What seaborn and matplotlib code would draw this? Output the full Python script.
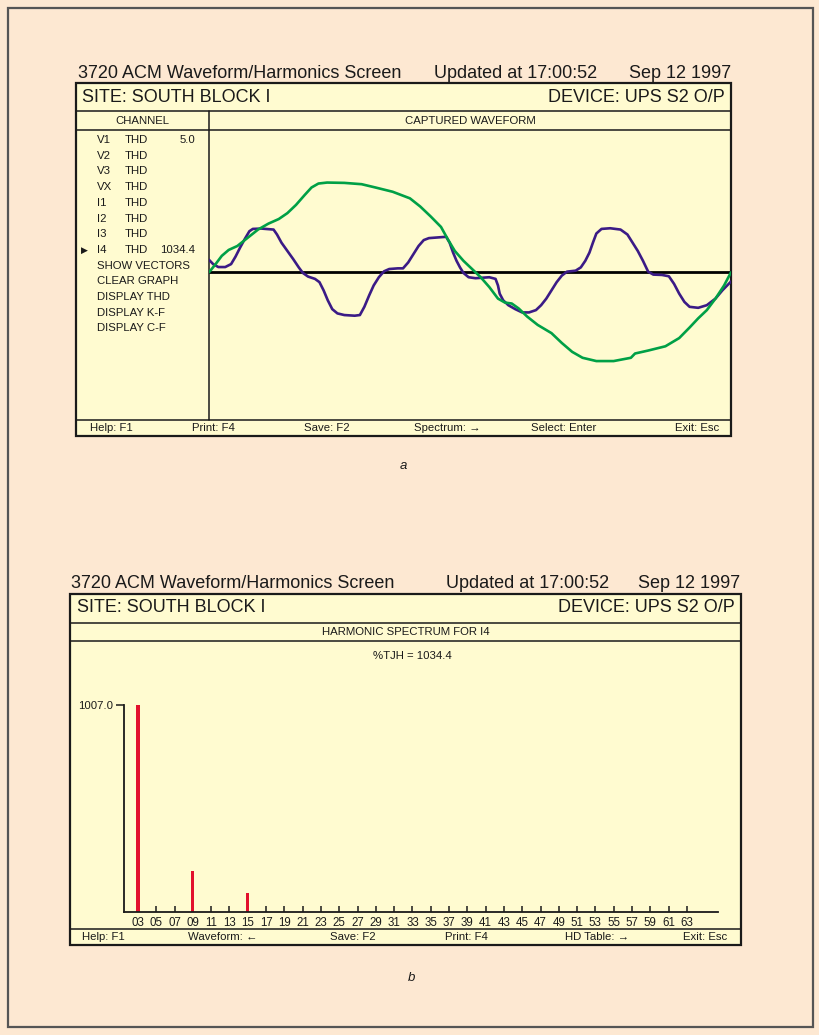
import matplotlib
matplotlib.use("Agg")
import matplotlib.pyplot as plt
from matplotlib.patches import Rectangle
from matplotlib.lines import Line2D
import seaborn as sns
import pandas as pd

# ---------------- data ----------------
title_left = "3720 ACM Waveform/Harmonics Screen"
title_mid = "Updated at 17:00:52"
title_right = "Sep 12 1997"
site_text = "SITE: SOUTH BLOCK I"
device_text = "DEVICE: UPS S2 O/P"

channel_names = ["V1", "V2", "V3", "VX", "I1", "I2", "I3", "I4"]
channel_values = ["5.0", "", "", "", "", "", "", "1034.4"]
menu_items = ["SHOW VECTORS", "CLEAR GRAPH", "DISPLAY THD", "DISPLAY K-F", "DISPLAY C-F"]
footer_a = ["Help: F1", "Print: F4", "Save: F2", "Spectrum: \u2192", "Select: Enter", "Exit: Esc"]
footer_b = ["Help: F1", "Waveform: \u2190", "Save: F2", "Print: F4", "HD Table: \u2192", "Exit: Esc"]

# captured waveform (phase angle in degrees, amplitude in % of voltage peak)
volt_deg = [0, 4.05, 8.81, 13.57, 19.52, 26.67, 33.81, 40.95, 48.10, 54.05, 60.0,
            65.95, 70.71, 75.48, 81.43, 93.33, 105.24, 114.76, 126.67, 138.57,
            145.71, 152.86, 160.0, 164.76, 169.52, 175.48, 181.43, 187.38, 193.33,
            199.29, 204.05, 208.81, 213.57, 219.52, 226.67, 236.19, 243.33, 250.48,
            257.62, 267.14, 279.05, 290.95, 293.81, 302.86, 314.76, 324.29, 331.43,
            337.38, 343.33, 349.29, 355.24, 360]
volt_val = [0, 8.06, 18.32, 24.91, 29.30, 38.46, 47.62, 54.21, 59.34, 65.93, 75.09,
            86.08, 94.51, 98.90, 100.0, 99.63, 98.17, 94.51, 89.74, 82.42,
            73.26, 62.27, 50.55, 36.63, 23.81, 12.82, 3.66, -5.49, -16.48,
            -29.30, -33.70, -34.80, -40.29, -49.45, -58.61, -67.77, -78.75, -88.64,
            -95.24, -98.90, -98.90, -95.24, -90.48, -87.18, -82.42, -73.26, -61.54,
            -51.28, -42.12, -29.30, -14.65, 0]
curr_deg = [0, 2.86, 6.43, 11.19, 15.24, 18.33, 21.43, 24.76, 27.86, 30.24, 36.19,
            44.52, 46.90, 50.0, 54.05, 58.10, 61.90, 64.76, 68.33, 73.10, 76.19,
            79.05, 81.90, 85.0, 88.57, 93.33, 100.48, 104.05, 107.14, 110.48,
            113.57, 117.14, 120.71, 124.29, 130.24, 133.81, 137.38, 140.95, 144.52,
            148.10, 151.67, 157.62, 163.57, 165.95, 168.33, 170.71, 173.10, 175.48,
            179.05, 183.81, 193.33, 197.62, 199.29, 200.48, 202.86, 206.43, 211.19,
            215.95, 220.71, 225.48, 229.05, 232.62, 236.19, 239.76, 243.33, 246.90,
            252.86, 256.43, 259.52, 262.38, 264.76, 267.14, 270.71, 276.67, 283.81,
            288.57, 292.14, 295.71, 299.29, 302.86, 306.43, 312.38, 317.14, 320.71,
            324.29, 327.86, 331.43, 337.38, 343.33, 349.29, 354.05, 360]
curr_val = [13.92, 9.16, 5.86, 5.86, 9.16, 17.58, 27.47, 37.36, 45.79, 48.35, 48.72,
            47.62, 42.12, 32.97, 23.81, 14.65, 5.49, -0.73, -4.76, -7.33, -10.99,
            -20.15, -31.14, -41.03, -45.79, -47.62, -48.35, -47.62, -38.46, -25.64,
            -14.65, -5.49, 1.10, 3.66, 4.40, 4.40, 10.99, 20.15, 29.30,
            35.90, 38.10, 38.83, 39.56, 32.97, 21.98, 12.82, 5.49, -0.73,
            -5.49, -6.59, -5.49, -7.33, -14.65, -23.81, -31.14, -36.63, -41.03,
            -44.69, -44.69, -42.12, -36.63, -29.30, -20.15, -10.99, -3.66, 0.73,
            1.83, 5.49, 12.82, 21.98, 32.97, 43.22, 48.35, 49.08, 47.62,
            42.12, 32.97, 23.81, 12.82, 0.73, -2.56, -2.93, -4.40, -12.82,
            -23.81, -32.97, -38.46, -39.56, -36.63, -29.30, -20.15, -10.26]

# harmonic spectrum for I4
harmonics = [3, 9, 15]
harm_values = [1007.0, 200.0, 94.0]
harm_ticks = list(range(3, 64, 2))
harm_tick_labels = [f"{h:02d}" for h in harm_ticks]
y_max_label = "1007.0"
tjh_text = "%TJH = 1034.4"

# ---------------- style ----------------
sns.set_theme(style="ticks")
plt.rcParams["font.family"] = ["Liberation Sans", "DejaVu Sans"]

W, H = 820, 1035
PEACH = "#FDE8D2"
PANEL = "#FFFBD0"
INK = "#1a1a1a"
GREEN = "#00A046"
PURPLE = "#3B1B86"
RED = "#E2102C"
BIG = 13.0

fig = plt.figure(figsize=(W / 100, H / 100), dpi=100, facecolor=PEACH)


def fx(x):
    return x / W


def fy(y):
    return 1 - y / H


def rect(x0, y0, x1, y1, fc=PANEL, lw=1.5, ec=INK, z=0):
    fig.patches.append(Rectangle((fx(x0), fy(y1)), fx(x1) - fx(x0), fy(y0) - fy(y1),
                                 transform=fig.transFigure, facecolor=fc, edgecolor=ec,
                                 linewidth=lw, zorder=z))


def hline(x0, x1, y, lw=1.1):
    fig.lines.append(Line2D([fx(x0), fx(x1)], [fy(y), fy(y)], transform=fig.transFigure,
                            color=INK, linewidth=lw, zorder=2))


def vline(x, y0, y1, lw=1.1):
    fig.lines.append(Line2D([fx(x), fx(x)], [fy(y0), fy(y1)], transform=fig.transFigure,
                            color=INK, linewidth=lw, zorder=2))


def txt(x, y, s, size=8.4, ha="left", **kw):
    fig.text(fx(x), fy(y), s, fontsize=size, ha=ha, va="center", color=INK, **kw)


# outer frame
rect(8, 8, 813, 1027, fc=PEACH, lw=1.6, ec="#555555", z=-1)

# ---------------- panel a ----------------
txt(78, 73, title_left, size=BIG)
txt(434, 73, title_mid, size=BIG)
txt(731, 73, title_right, size=BIG, ha="right")
rect(76, 83, 731, 436, lw=1.6)
hline(76, 731, 110.5)
hline(76, 731, 130.5)
vline(209, 110.5, 419.5)
hline(76, 731, 419.5)
txt(82, 97, site_text, size=BIG)
txt(725, 97, device_text, size=BIG, ha="right")
txt(142.5, 121, "CHANNEL", size=8.2, ha="center")
txt(470, 121, "CAPTURED WAVEFORM", size=8.2, ha="center")

row_y = [140, 156, 171.5, 187, 203, 218.5, 234, 250]
for name, val, y in zip(channel_names, channel_values, row_y):
    txt(97, y, name, size=8.2)
    txt(125, y, "THD", size=8.2)
    if val:
        txt(195, y, val, size=8.2, ha="right")
txt(81, 250, "\u25B6", size=6.5, family=["DejaVu Sans"])
menu_y = [265.5, 281, 297, 312.5, 328]
for item, y in zip(menu_items, menu_y):
    txt(97, y, item, size=8.2)

foot_a_x = [90, 192, 304, 414, 531, 719]
for i, (s, x) in enumerate(zip(footer_a, foot_a_x)):
    txt(x, 428, s, size=8.2, ha="right" if i == len(footer_a) - 1 else "left")

ax1 = fig.add_axes([fx(209), fy(419.5), fx(731) - fx(209), fy(130.5) - fy(419.5)])
ax1.set_zorder(5)
ax1.set_facecolor("none")
ax1.axhline(0, color="black", linewidth=2.0, zorder=1)
sns.lineplot(x=volt_deg, y=volt_val, sort=False, estimator=None, ax=ax1,
             color=GREEN, linewidth=1.9, zorder=3,
             solid_joinstyle="round", solid_capstyle="round")
sns.lineplot(x=curr_deg, y=curr_val, sort=False, estimator=None, ax=ax1,
             color=PURPLE, linewidth=1.9, zorder=2,
             solid_joinstyle="round", solid_capstyle="round")
ax1.set_xlim(0, 360)
ax1.set_ylim(-164, 158)
ax1.set_xticks([])
ax1.set_yticks([])
ax1.set_xlabel("")
ax1.set_ylabel("")
for sp in ax1.spines.values():
    sp.set_visible(False)

txt(403, 466, "a", size=9.5, ha="center", style="italic")

# ---------------- panel b ----------------
txt(71, 583, title_left, size=BIG)
txt(446, 583, title_mid, size=BIG)
txt(740, 583, title_right, size=BIG, ha="right")
rect(70, 594, 741, 945, lw=1.6)
hline(70, 741, 623)
hline(70, 741, 641)
hline(70, 741, 929)
txt(77, 608, site_text, size=BIG)
txt(735, 608, device_text, size=BIG, ha="right")
txt(405.5, 632, "HARMONIC SPECTRUM FOR I4", size=8.2, ha="center")
txt(412, 656, tjh_text, size=8.2, ha="center")

foot_b_x = [82, 188, 330, 445, 565, 727]
for i, (s, x) in enumerate(zip(footer_b, foot_b_x)):
    txt(x, 937, s, size=8.2, ha="right" if i == len(footer_b) - 1 else "left")

ax2 = fig.add_axes([fx(124), fy(912), fx(718) - fx(124), fy(705) - fy(912)])
ax2.set_zorder(5)
ax2.set_facecolor("none")
df = pd.DataFrame({"harmonic": harmonics, "value": harm_values})
sns.barplot(data=df, x="harmonic", y="value", native_scale=True, width=0.055,
            color=RED, saturation=1, errorbar=None, linewidth=0, ax=ax2)
ax2.set_xlim(1.47, 66.4)
ax2.set_ylim(0, 1007.0)
ax2.set_xticks(harm_ticks)
ax2.set_xticklabels(harm_tick_labels)
ax2.set_yticks([1007.0])
ax2.set_yticklabels([y_max_label])
ax2.tick_params(axis="x", direction="in", length=4, width=1.1, pad=3.5,
                labelsize=8.3, colors=INK)
ax2.tick_params(axis="y", direction="out", length=6, width=1.1, pad=2,
                labelsize=8.2, colors=INK)
ax2.set_xlabel("")
ax2.set_ylabel("")
for s in ["top", "right"]:
    ax2.spines[s].set_visible(False)
for s in ["left", "bottom"]:
    ax2.spines[s].set_linewidth(1.3)
    ax2.spines[s].set_color(INK)

txt(412, 978, "b", size=9.5, ha="center", style="italic")

fig.savefig("out.png", dpi=100, facecolor=PEACH)
